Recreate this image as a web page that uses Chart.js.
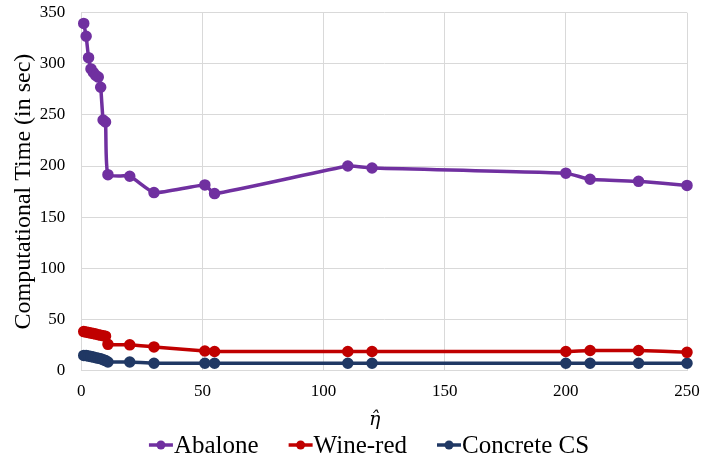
<!DOCTYPE html>
<html>
<head>
<meta charset="utf-8">
<script src="https://cdn.jsdelivr.net/npm/chart.js@4.4.1/dist/chart.umd.min.js"></script>
<style>
  html, body { margin: 0; padding: 0; background: #fff; }
  #wrap { width: 702px; height: 461px; }
</style>
</head>
<body>
<div id="wrap"><canvas id="chart" width="702" height="461"></canvas></div>
<script>
// eta-hat values on the x axis
const etaValues = [1, 2, 3, 4, 5, 6, 7, 8, 9, 10, 11, 20, 30, 51, 55, 110, 120, 200, 210, 230, 250];

// computational time (sec) for each dataset
const abalone = [339.5, 327, 306, 295, 291.5, 288.5, 287, 277, 245, 243, 191.5, 190, 174, 181.5, 173, 200, 198, 193, 187, 185, 181];
const wineRed = [38, 37.5, 37, 36.5, 36, 35.5, 35, 34.5, 34, 33.5, 25.5, 25, 23, 19, 18.5, 18.5, 18.5, 18.5, 19.5, 19.5, 17.7];
const concrete = [14.7, 14.5, 14, 13.5, 13, 12.5, 12, 11.5, 10.5, 9.6, 8.2, 8.2, 7, 7, 7, 7, 7, 7, 7, 7, 7];

const seriesNames = ['Abalone', 'Wine-red', 'Concrete CS'];
const seriesColors = ['#7030A0', '#C00000', '#203864'];
const xTicks = [0, 50, 100, 150, 200, 250];
const yTicks = [0, 50, 100, 150, 200, 250, 300, 350];

const serif = "'Liberation Serif', 'Times New Roman', serif";

function toPoints(vals) {
    return etaValues.map((x, i) => ({ x: x, y: vals[i] }));
}

// legend drawn by hand: line-with-dot marker then the name
const bottomLegend = {
    id: 'bottomLegend',
    afterDraw: function(chart) {
        const ctx = chart.ctx;
        const markerW = 25;
        const gap = 30;
        ctx.save();
        ctx.font = '25px ' + serif;
        const widths = seriesNames.map(n => ctx.measureText(n).width);
        const total = widths.reduce((a, b) => a + b, 0) + markerW * 3 + gap * 2;
        let x = 369 - total / 2;
        const baseY = 453;
        seriesNames.forEach((name, i) => {
            const midY = baseY - 8;
            ctx.strokeStyle = seriesColors[i];
            ctx.lineWidth = 3.5;
            ctx.beginPath();
            ctx.moveTo(x, midY);
            ctx.lineTo(x + markerW - 1, midY);
            ctx.stroke();
            ctx.fillStyle = seriesColors[i];
            ctx.beginPath();
            ctx.arc(x + (markerW - 1) / 2, midY, 4.5, 0, Math.PI * 2);
            ctx.fill();
            ctx.fillStyle = '#000';
            ctx.textBaseline = 'alphabetic';
            ctx.textAlign = 'left';
            ctx.fillText(name, x + markerW, baseY);
            x += markerW + widths[i] + gap;
        });
        ctx.restore();
    }
};

const datasets = [abalone, wineRed, concrete].map((vals, i) => ({
    label: seriesNames[i],
    data: toPoints(vals),
    borderColor: seriesColors[i],
    backgroundColor: seriesColors[i],
    borderWidth: 3.5,
    pointRadius: 4,
    pointHoverRadius: 4,
    tension: 0.15,
    clip: false
}));

new Chart(document.getElementById('chart').getContext('2d'), {
    type: 'line',
    data: { datasets: datasets },
    plugins: [bottomLegend],
    options: {
        responsive: false,
        animation: false,
        layout: { autoPadding: false, padding: { top: 0, right: 0, left: 9, bottom: 30 } },
        plugins: {
            legend: { display: false },
            tooltip: { enabled: false }
        },
        scales: {
            x: {
                type: 'linear',
                min: 0,
                max: 250,
                afterBuildTicks: function(axis) {
                    axis.ticks = xTicks.map(v => ({ value: v }));
                },
                afterFit: function(axis) {
                    axis.paddingRight = 15;
                },
                grid: { color: '#d9d9d9', drawTicks: false },
                border: { color: '#d9d9d9' },
                ticks: {
                    color: '#000',
                    font: { family: serif, size: 17 },
                    padding: 11
                },
                title: {
                    display: true,
                    text: '\u03B7\u0302\u2003',
                    color: '#000',
                    font: { family: "'DejaVu Serif', serif", size: 19, style: 'italic' },
                    padding: { top: -3.7, bottom: -0.9 }
                }
            },
            y: {
                min: 0,
                max: 350,
                afterBuildTicks: function(axis) {
                    axis.ticks = yTicks.map(v => ({ value: v }));
                },
                afterFit: function(axis) {
                    axis.paddingTop = 12.7;
                },
                grid: { color: '#d9d9d9', drawTicks: false },
                border: { color: '#d9d9d9' },
                ticks: {
                    color: '#000',
                    font: { family: serif, size: 17 },
                    padding: 16
                },
                title: {
                    display: true,
                    text: 'Computational Time (in sec)',
                    color: '#000',
                    font: { family: serif, size: 24 },
                    padding: { top: 0, bottom: -14 }
                }
            }
        }
    }
});
</script>
</body>
</html>
